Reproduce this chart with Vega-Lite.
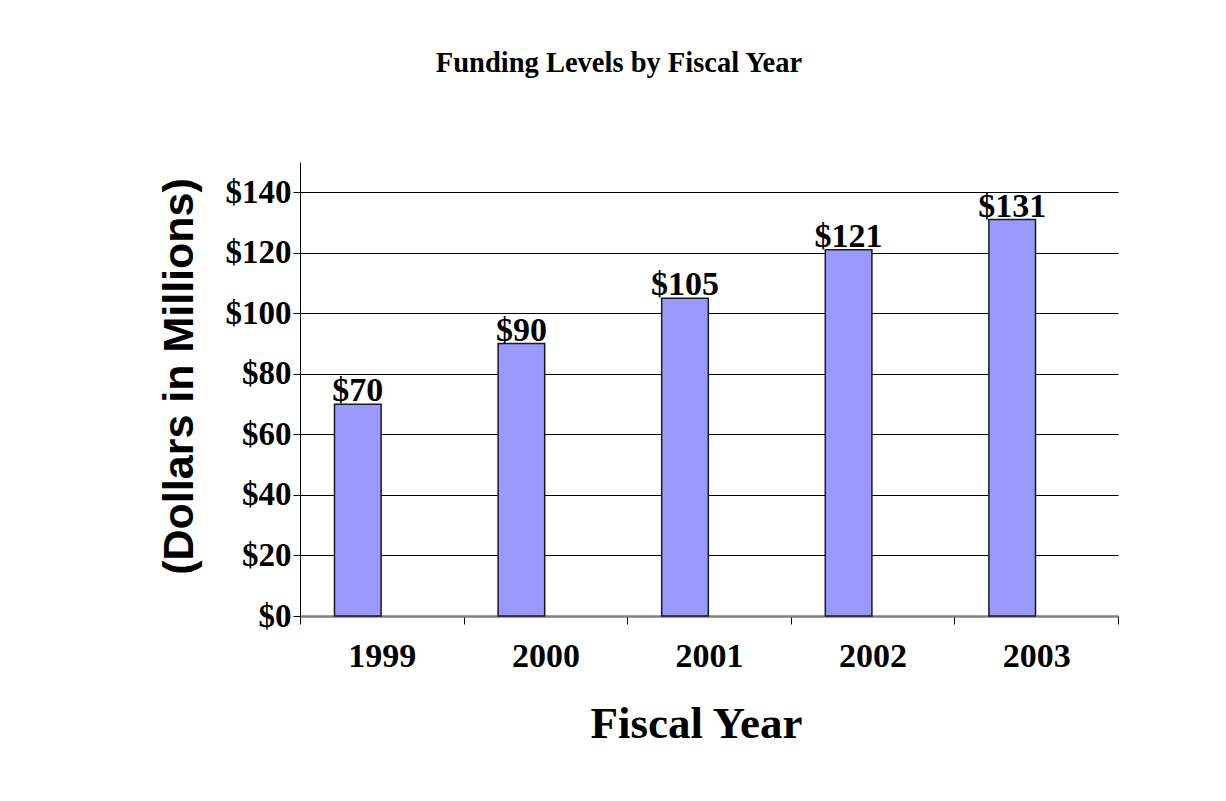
{
  "$schema": "https://vega.github.io/schema/vega-lite/v6.json",
  "autosize": "none",
  "width": 818,
  "height": 454,
  "padding": {"left": 300, "top": 162, "right": 108, "bottom": 185},
  "background": "white",
  "title": {
    "text": "Funding Levels by Fiscal Year",
    "font": "Liberation Serif",
    "fontSize": 28.5,
    "fontWeight": "bold",
    "color": "black",
    "anchor": "middle",
    "dx": -90,
    "offset": 85
  },
  "data": {
    "values": [
      {"year": "1999", "funding": 70},
      {"year": "2000", "funding": 90},
      {"year": "2001", "funding": 105},
      {"year": "2002", "funding": 121},
      {"year": "2003", "funding": 131}
    ]
  },
  "encoding": {
    "x": {
      "field": "year",
      "type": "ordinal",
      "scale": {"paddingInner": 0, "paddingOuter": 0},
      "axis": {
        "title": "Fiscal Year",
        "titleFont": "Liberation Serif",
        "titleFontSize": 45,
        "titleFontWeight": "bold",
        "titleColor": "black",
        "titlePadding": 28,
        "titleX": 396,
        "labelAngle": 0,
        "labelFont": "Liberation Serif",
        "labelFontSize": 34,
        "labelFontWeight": "bold",
        "labelColor": "black",
        "labelPadding": 15,
        "tickBand": "extent",
        "tickSize": 8,
        "tickColor": "black",
        "tickWidth": 1,
        "domainColor": "#808080",
        "domainWidth": 2.5,
        "grid": false
      }
    },
    "y": {
      "field": "funding",
      "type": "quantitative",
      "scale": {"domain": [0, 150], "nice": false},
      "axis": {
        "title": "(Dollars in Millions)",
        "titleFont": "Liberation Sans",
        "titleFontSize": 43,
        "titleFontWeight": "bold",
        "titleColor": "black",
        "titlePadding": 24,
        "titleY": 214,
        "values": [0, 20, 40, 60, 80, 100, 120, 140],
        "format": "$.0f",
        "labelFont": "Liberation Serif",
        "labelFontSize": 33,
        "labelFontWeight": "bold",
        "labelColor": "black",
        "labelPadding": 2,
        "tickSize": 7,
        "tickColor": "black",
        "domainColor": "black",
        "domainWidth": 1,
        "grid": true,
        "gridColor": "black",
        "gridWidth": 1.2,
        "gridOpacity": 1
      }
    }
  },
  "layer": [
    {
      "mark": {
        "type": "bar",
        "width": {"band": 0.285},
        "xOffset": -24,
        "fill": "#9999FF",
        "stroke": "#1a1a1a",
        "strokeWidth": 1.5
      }
    },
    {
      "mark": {
        "type": "text",
        "font": "Liberation Serif",
        "fontSize": 34,
        "fontWeight": "bold",
        "color": "black",
        "baseline": "alphabetic",
        "xOffset": -24,
        "dy": -3
      },
      "encoding": {
        "text": {"field": "funding", "type": "quantitative", "format": "$.0f"}
      }
    }
  ],
  "config": {
    "view": {"stroke": null}
  }
}
